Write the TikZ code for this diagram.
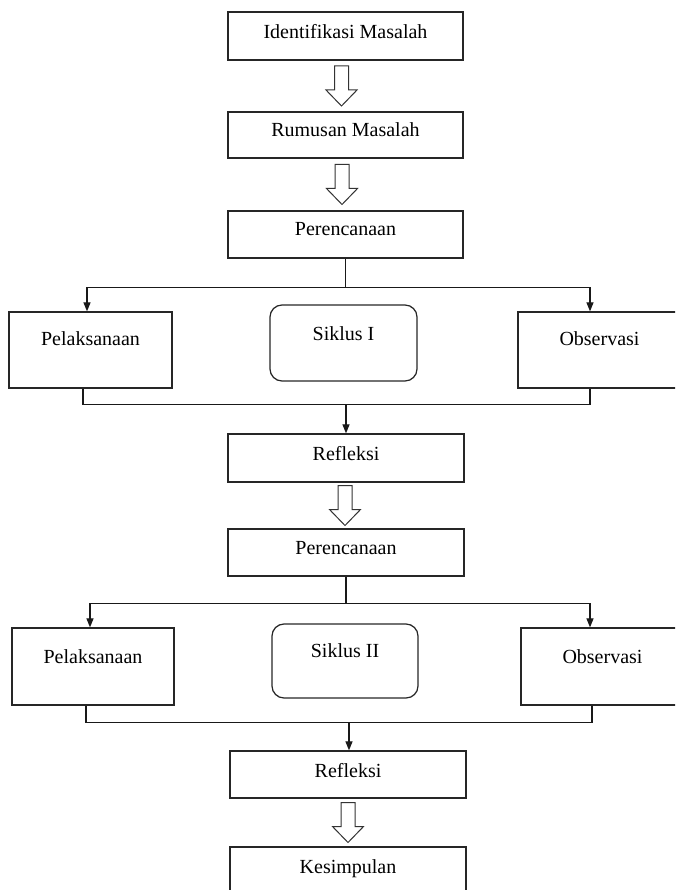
\documentclass[tikz,border=0pt]{standalone}
\usepackage{fontspec}
\setmainfont{Liberation Serif}
\usetikzlibrary{arrows.meta,calc}
\begin{document}
\begin{tikzpicture}[x=1pt,y=-1pt,
  every node/.style={font=\fontsize{20}{22}\selectfont, text=black},
  cbox/.style={draw=black!85, line width=1.25pt, minimum width=235pt, minimum height=47pt, inner sep=0pt, text height=14pt, text depth=10pt},
  sbox/.style={draw=black!85, line width=1.25pt, minimum width=163pt, minimum height=76pt, inner sep=0pt, text height=14pt, text depth=23pt},
  rbox/.style={draw=black!85, line width=1.25pt, rounded corners=12pt, minimum width=147pt, minimum height=75pt, inner sep=0pt, text height=14pt, text depth=21pt},
  conn/.style={draw=black!90, line width=1.2pt},
  arr/.style={conn, -{Triangle[length=9pt,width=7pt]}},
  hollow/.pic={\draw[line width=1pt, draw=black!80, line join=miter]
     (-7,-20) -- (-7,4) -- (-15.5,4) -- (0,20) -- (15.5,4) -- (7,4) -- (7,-20) -- cycle;}
]
\useasboundingbox (0,0) rectangle (675,890);
\clip (0,0) rectangle (675,890);

% centre column
\node[cbox, minimum height=48pt, text depth=9pt] (id) at (345.5,36) {Identifikasi Masalah};
\node[cbox, minimum height=46pt] (rm) at (345.5,135) {Rumusan Masalah};
\node[cbox, text depth=12pt] (p1) at (345.5,234.5) {Perencanaan};

% cycle I
\node[sbox, text depth=24pt] (pl1) at (90.5,350) {Pelaksanaan};
\node[rbox, minimum height=76pt, text depth=20pt] (s1) at (343.5,343) {Siklus I};
\node[sbox, text depth=24pt] (ob1) at (599.5,350) {Observasi};

\node[cbox, minimum width=236pt, minimum height=48pt] (r1) at (346,458) {Refleksi};
\node[cbox, minimum width=236pt] (p2) at (346,552.5) {Perencanaan};

% cycle II
\node[sbox, minimum width=162pt, minimum height=77pt, text depth=21pt] (pl2) at (93,666.5) {Pelaksanaan};
\node[rbox, minimum width=146pt, minimum height=74pt, text depth=22pt] (s2) at (345,661) {Siklus II};
\node[sbox, minimum height=77pt, text depth=21pt] (ob2) at (602.5,666.5) {Observasi};

\node[cbox, minimum width=236pt, text depth=9pt] (r2) at (348,774.5) {Refleksi};
\node[cbox, minimum width=236pt, minimum height=48pt] (k) at (348,871) {Kesimpulan};

% hollow block arrows
\pic[xshift=-4pt] at ($(id.south)!0.5!(rm.north)$) {hollow};
\pic[xshift=-3.5pt] at ($(rm.south)!0.5!(p1.north)$) {hollow};
\pic[xshift=-1pt] at ($(r1.south)!0.5!(p2.north)$) {hollow};
\pic at ($(r2.south)!0.5!(k.north)$) {hollow};

% branching, cycle I
\coordinate (j1) at ([yshift=-29pt]p1.south);
\draw[conn] (p1.south) -- (j1);
\draw[arr] (j1) -| ([xshift=-3.5pt]pl1.north);
\draw[arr] (j1) -| ([xshift=-9.5pt]ob1.north);
\coordinate (m1) at ([yshift=29pt]r1.north);
\draw[conn] ([xshift=-7.5pt]pl1.south) |- (m1) -| ([xshift=-9.5pt]ob1.south);
\draw[arr] (m1) -- (r1.north);

% branching, cycle II
\coordinate (j2) at ([yshift=-27pt]p2.south);
\draw[conn] (p2.south) -- (j2);
\draw[arr] (j2) -| ([xshift=-3pt]pl2.north);
\draw[arr] (j2) -| ([xshift=-12.5pt]ob2.north);
\coordinate (m2) at ([yshift=28pt,xshift=1pt]r2.north);
\draw[conn] ([xshift=-7pt]pl2.south) |- (m2) -| ([xshift=-10.5pt]ob2.south);
\draw[arr] (m2) -- ([xshift=1pt]r2.north);
\end{tikzpicture}
\end{document}
